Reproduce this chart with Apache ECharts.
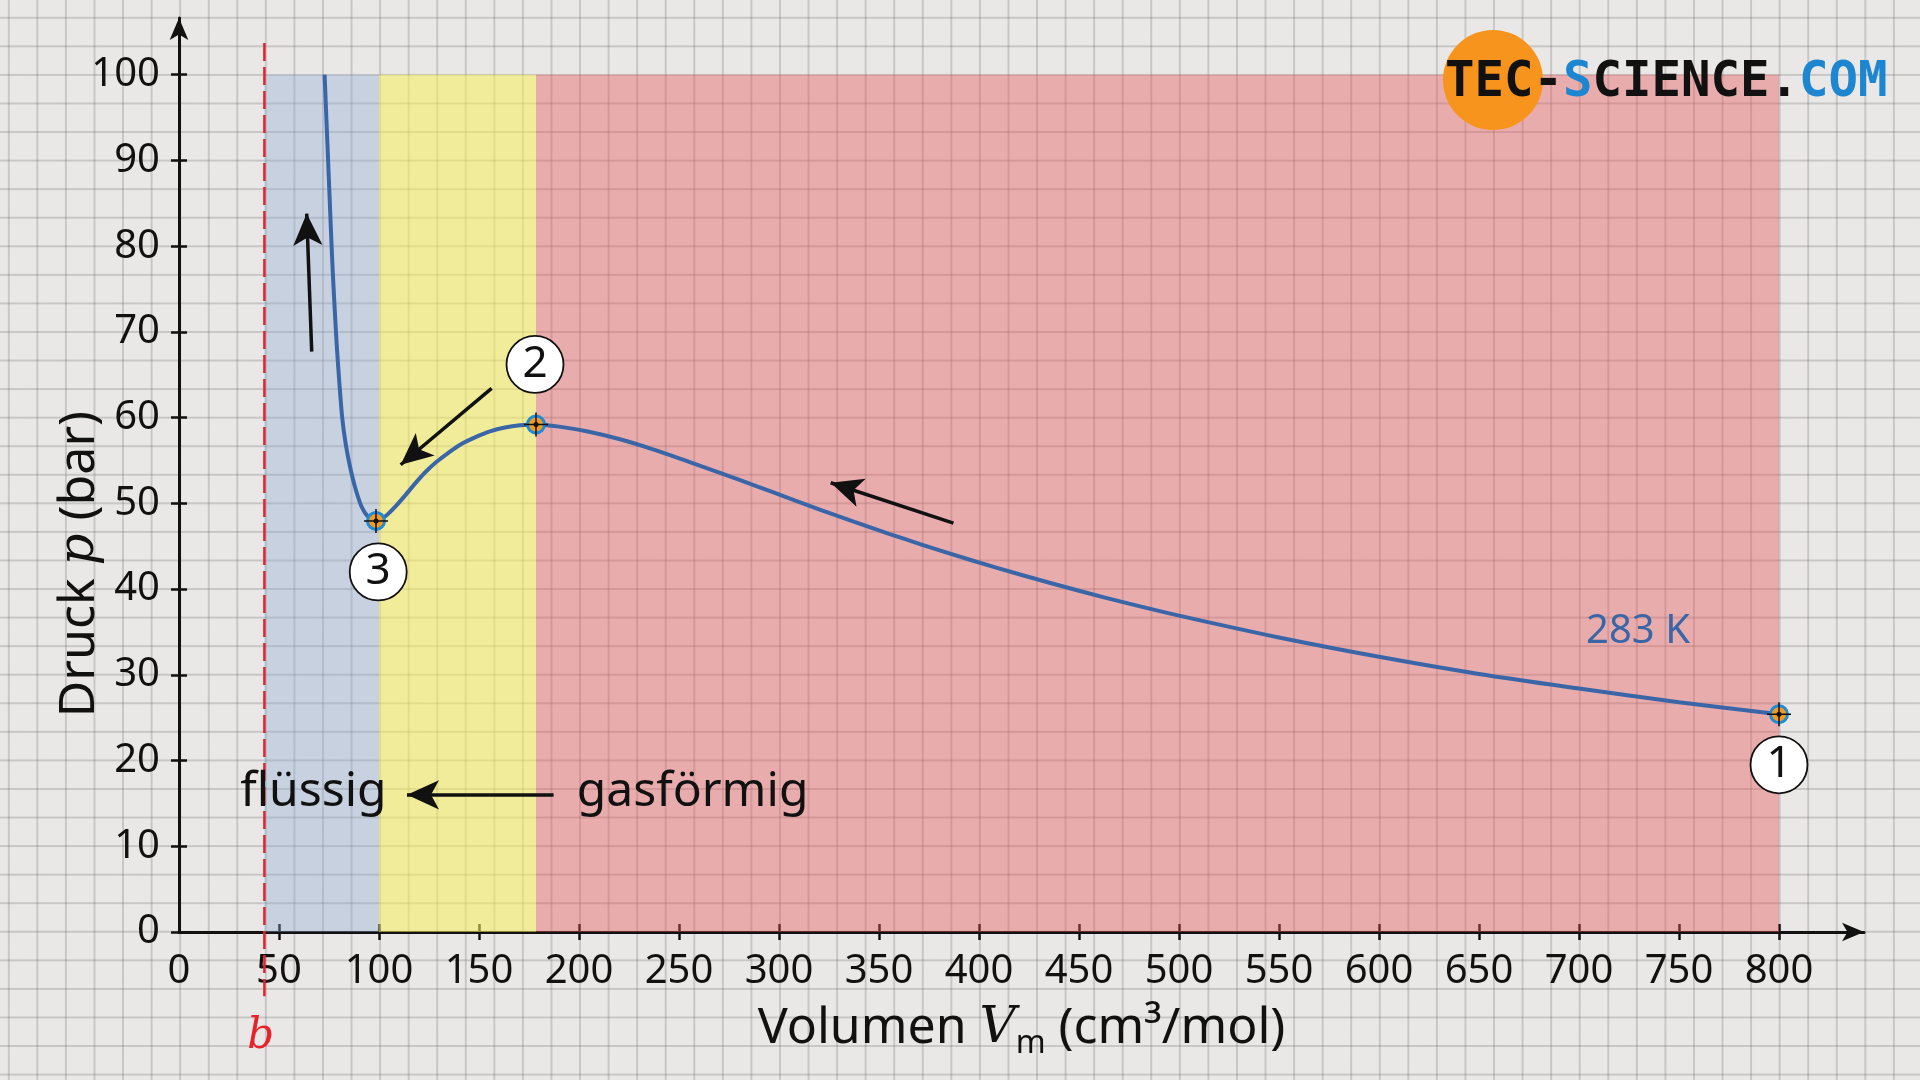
<!DOCTYPE html>
<html>
<head>
<meta charset="utf-8">
<script src="https://cdn.jsdelivr.net/npm/echarts@6/dist/echarts.min.js"></script>
<style>
html,body{margin:0;padding:0;width:1920px;height:1080px;overflow:hidden;}
body{
  background-color:#e9e8e6;
  background-image:
    linear-gradient(to right, rgba(80,80,80,0.22) 0, rgba(80,80,80,0.22) 1.6px, transparent 1.6px),
    linear-gradient(to bottom, rgba(80,80,80,0.22) 0, rgba(80,80,80,0.22) 1.6px, transparent 1.6px);
  background-size:28.571px 28.571px;
  background-position:7.8px 16.8px;
}
#chart{width:1920px;height:1080px;}
</style>
</head>
<body>
<div id="chart"></div>
<script>
// ---- data ----
const volume   = [72.8, 73.5, 74.2, 74.9, 75.6, 76.3, 77.1, 78.0, 79.0, 80.2, 81.6, 83.3, 85.5, 88, 91.3, 94.7, 98.5, 101.5, 104.7, 108.5, 113, 118, 123, 128.5, 134.7, 141, 148, 155.5, 163, 170.5, 178.5, 190, 203.8, 220, 237, 255, 270.5, 290, 303.8, 320, 337, 355, 370.5, 395, 420.5, 450, 475, 500, 550, 600, 650, 700, 750, 800];
const pressure = [100, 96, 92, 88, 84, 80, 76, 72, 68, 64, 60, 57, 54.3, 51.9, 49.6, 48.4, 47.95, 48.2, 48.8, 49.7, 50.9, 52.3, 53.6, 54.8, 55.9, 56.9, 57.7, 58.4, 58.85, 59.1, 59.2, 58.95, 58.4, 57.5, 56.3, 54.85, 53.55, 51.9, 50.7, 49.3, 47.9, 46.45, 45.25, 43.45, 41.7, 39.8, 38.3, 36.9, 34.35, 32.1, 30.1, 28.4, 26.8, 25.4];

const keyV = [800, 178.5, 98.5];
const keyP = [25.4, 59.2, 47.95];
const keyNames = ['1', '2', '3'];
const keyLabelV = [800, 178, 99.6];
const keyLabelP = [19.5, 66.2, 42.0];

const bValue = 42.7;          // co-volume b
const bLineP = [103.7, -7.5];
const bLabelPos = [40.9, -12.3];

const regionEdges = [42.7, 100, 178.5, 800]; // liquid | unstable | gas
const regionTop = 100;

const xLabelValues = [0, 50, 100, 150, 200, 250, 300, 350, 400, 450, 500, 550, 600, 650, 700, 750, 800];
const xTickValues  = [50, 100, 150, 200, 250, 300, 350, 400, 450, 500, 550, 600, 650, 700, 750, 800];
const yLabelValues = [0, 10, 20, 30, 40, 50, 60, 70, 80, 90, 100];

const phaseText = ['flüssig', 'gasförmig'];
const phaseV = [67.2, 256.8];
const phaseP = [16.3, 16.3];

const isothermText = '283 K';
const isothermPos = [729.5, 35.0];

const arrowFrom = [[66.35, 67.7], [156.3, 63.4], [387.2, 47.7], [187.3, 16.0]];
const arrowTo   = [[63.85, 83.8], [110.85, 54.5], [325.85, 52.4], [114.0, 16.0]];

// ---- chart ----
const FONT = 'Noto Sans';
const chart = echarts.init(document.getElementById('chart'), null, {renderer: 'canvas'});

const curveData = volume.map((v, i) => [v, pressure[i]]);
const keyData = keyV.map((v, i) => [v, keyP[i]]);

function xAxisBase(extra) {
  return Object.assign({
    type: 'value', min: 0, max: 842.5, position: 'bottom', gridIndex: 0,
    splitLine: {show: false}
  }, extra);
}
function yAxisBase(extra) {
  return Object.assign({
    type: 'value', min: 0, max: 106.6, position: 'left', gridIndex: 0,
    splitLine: {show: false}
  }, extra);
}

const option = {
  animation: false,
  backgroundColor: 'transparent',
  grid: {left: 179, right: 56, top: 18.1, bottom: 148, containLabel: false},
  xAxis: [
    xAxisBase({
      axisLine: {show: true, lineStyle: {color: '#111', width: 3}, symbol: ['none', 'arrow'], symbolSize: [14, 22]},
      axisTick: {show: true, inside: false, length: 8, lineStyle: {color: '#111', width: 2.5}, customValues: xTickValues},
      axisLabel: {show: true, customValues: xLabelValues, fontSize: 40, color: '#111', fontFamily: FONT, margin: 20},
      name: 'Volumen {i|V}{s|m} (cm³/mol)',
      nameLocation: 'middle',
      nameGap: 66,
      nameTextStyle: {
        fontSize: 50, color: '#111', fontFamily: FONT, lineHeight: 62, padding: [0, 0, 0, 0],
        rich: {
          i: {fontSize: 50, fontStyle: 'italic', fontFamily: 'DejaVu Serif', color: '#111', lineHeight: 62},
          s: {fontSize: 32, fontFamily: FONT, color: '#111', lineHeight: 38, verticalAlign: 'bottom'}
        }
      }
    }),
    xAxisBase({
      axisLine: {show: false},
      axisTick: {show: true, inside: true, length: 8, lineStyle: {color: '#111', width: 2.5}, customValues: xTickValues},
      axisLabel: {show: false}
    })
  ],
  yAxis: [
    yAxisBase({
      axisLine: {show: true, lineStyle: {color: '#111', width: 3}, symbol: ['none', 'arrow'], symbolSize: [14, 22]},
      axisTick: {show: true, inside: false, length: 8, lineStyle: {color: '#111', width: 2.5}, customValues: yLabelValues},
      axisLabel: {show: true, customValues: yLabelValues, fontSize: 40, color: '#111', fontFamily: FONT, margin: 19},
      name: 'Druck {i|p} (bar)',
      nameLocation: 'middle',
      nameMoveOverlap: false,
      nameGap: 74,
      nameTextStyle: {
        fontSize: 50, color: '#111', fontFamily: FONT, padding: [0, 178, 0, 0],
        rich: {
          i: {fontSize: 50, fontStyle: 'italic', fontFamily: 'DejaVu Serif', color: '#111'}
        }
      }
    }),
    yAxisBase({
      axisLine: {show: false},
      axisTick: {show: true, inside: true, length: 8, lineStyle: {color: '#111', width: 2.5}, customValues: yLabelValues},
      axisLabel: {show: false}
    })
  ],
  graphic: [
    {type: 'circle', shape: {cx: 1493, cy: 80, r: 50}, style: {fill: '#f7941d'}, z: 50},
    {
      type: 'text', x: 1445, y: 83, z: 51,
      style: {
        text: '{k|TEC-}{c|S}{k|CIENCE.}{c|COM}',
        verticalAlign: 'middle', align: 'left',
        rich: {
          k: {fill: '#111111', fontSize: 49, fontWeight: 'bold', fontFamily: 'DejaVu Sans Mono'},
          c: {fill: '#1d86d1', fontSize: 49, fontWeight: 'bold', fontFamily: 'DejaVu Sans Mono'}
        }
      }
    }
  ],
  series: [
    // coloured phase regions
    {
      type: 'line', data: [], z: 1, silent: true, symbol: 'none',
      markArea: {
        silent: true,
        data: [
          [{xAxis: regionEdges[0], yAxis: 0, itemStyle: {color: 'rgba(140,170,210,0.36)'}}, {xAxis: regionEdges[1], yAxis: regionTop}],
          [{xAxis: regionEdges[1], yAxis: 0, itemStyle: {color: 'rgba(248,238,90,0.55)'}}, {xAxis: regionEdges[2], yAxis: regionTop}],
          [{xAxis: regionEdges[2], yAxis: 0, itemStyle: {color: 'rgba(230,88,92,0.42)'}}, {xAxis: regionEdges[3], yAxis: regionTop}]
        ]
      }
    },
    // co-volume b dashed line
    {
      type: 'line', z: 3, clip: false, symbol: 'none', silent: true,
      data: bLineP.map(p => [bValue, p]),
      lineStyle: {color: '#e8222b', width: 2.5, type: [18, 6]}
    },
    {
      type: 'scatter', z: 3, clip: false, symbolSize: 0, silent: true,
      data: [{value: bLabelPos, name: 'b'}],
      itemStyle: {opacity: 1},
      label: {show: true, position: 'inside', formatter: '{b}', fontSize: 42, fontStyle: 'italic', fontFamily: 'DejaVu Serif', color: '#e8222b'}
    },
    // isotherm
    {
      type: 'line', z: 5, data: curveData, smooth: 0.3, symbol: 'none', silent: true,
      lineStyle: {color: '#3a66a8', width: 4}
    },
    // annotation arrows
    {
      type: 'line', data: [], z: 6, silent: true, symbol: 'none',
      markLine: {
        silent: true, animation: false,
        symbol: ['none', 'arrow'], symbolSize: [22, 32],
        label: {show: false},
        lineStyle: {color: '#111', width: 3.5, type: 'solid'},
        data: arrowFrom.map((f, i) => [{coord: f}, {coord: arrowTo[i]}])
      }
    },
    // key point markers
    {
      type: 'scatter', z: 7, data: keyData, symbol: 'circle', symbolSize: 17, silent: true,
      itemStyle: {color: '#f59b1c', borderColor: '#1f8ad6', borderWidth: 3, opacity: 1}
    },
    {
      type: 'scatter', z: 8, data: keyData, silent: true,
      symbol: 'path://M11.25,0h1.5v24h-1.5z M0,11.25h24v1.5h-24z', symbolSize: 24,
      itemStyle: {color: '#111', opacity: 1}
    },
    {
      type: 'scatter', z: 9, data: keyData, symbol: 'circle', symbolSize: 5, silent: true,
      itemStyle: {color: '#111', opacity: 1}
    },
    // circled numbers
    {
      type: 'scatter', z: 10, silent: true, symbol: 'circle', symbolSize: 57,
      data: keyNames.map((n, i) => ({value: [keyLabelV[i], keyLabelP[i]], name: n})),
      itemStyle: {color: '#ffffff', borderColor: '#111', borderWidth: 1.8, opacity: 1},
      label: {show: true, position: 'inside', formatter: '{b}', fontSize: 44, color: '#111', fontFamily: FONT}
    },
    // phase texts
    {
      type: 'scatter', z: 10, silent: true, symbolSize: 0,
      data: phaseText.map((t, i) => ({value: [phaseV[i], phaseP[i]], name: t})),
      itemStyle: {opacity: 1},
      label: {show: true, position: 'inside', formatter: '{b}', fontSize: 48, color: '#111', fontFamily: FONT}
    },
    // isotherm temperature label
    {
      type: 'scatter', z: 10, silent: true, symbolSize: 0,
      data: [{value: isothermPos, name: isothermText}],
      itemStyle: {opacity: 1},
      label: {show: true, position: 'inside', formatter: '{b}', fontSize: 40, color: '#3a66a8', fontFamily: FONT}
    }
  ]
};
chart.setOption(option);
</script>
</body>
</html>
